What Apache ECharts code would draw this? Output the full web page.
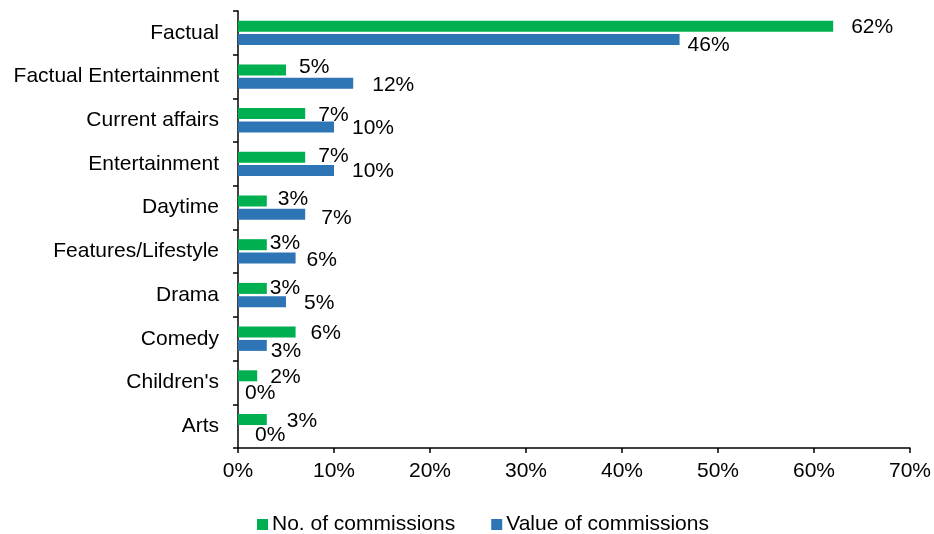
<!DOCTYPE html>
<html>
<head>
<meta charset="utf-8">
<script src="https://cdn.jsdelivr.net/npm/echarts@6/dist/echarts.min.js"></script>
<style>
  html, body { margin: 0; padding: 0; background: #fff; }
  #chart { width: 934px; height: 534px; }
</style>
</head>
<body>
<div id="chart"></div>
<script>
// Commissions by genre, share (%) of number and of value
const genres = ['Factual', 'Factual Entertainment', 'Current affairs', 'Entertainment', 'Daytime',
  'Features/Lifestyle', 'Drama', 'Comedy', "Children's", 'Arts'];
const numberShare = [62, 5, 7, 7, 3, 3, 3, 6, 2, 3];
const valueShare = [46, 12, 10, 10, 7, 6, 5, 3, 0, 0];
const seriesNames = ['No. of commissions', 'Value of commissions'];
const xTicks = [0, 10, 20, 30, 40, 50, 60, 70];

// Hand-placed data label nudges [dx, dy] in px, one per genre
const numberLabelNudge = [[18, 1], [13, -3], [13, 2], [13, -1], [11, -2], [3, -1], [3, 0], [15, 1], [13, 1], [20, 2]];
const valueLabelNudge = [[8, 6], [19, 2], [18, 1], [18, 1], [16, 4], [11, 2], [18, 1], [4, 6], [7, 4], [17, 2]];

const FONT = "'Liberation Sans', Arial, sans-serif";
const TEXT = '#000';
const FS = 21;

function items(values, nudges) {
  return values.map((v, i) => ({
    value: v,
    label: { offset: nudges[i] }
  }));
}

const chart = echarts.init(document.getElementById('chart'), null, { renderer: 'canvas' });
chart.setOption({
  animation: false,
  textStyle: { fontFamily: FONT },
  grid: { left: 238, right: 23, top: 11, bottom: 86, containLabel: false },
  legend: {
    data: seriesNames,
    left: 252,
    top: 509,
    icon: 'rect',
    itemWidth: 11,
    itemHeight: 11,
    itemGap: 36,
    textStyle: { fontSize: FS, color: TEXT, fontFamily: FONT, padding: [0, 0, 0, -1] }
  },
  xAxis: {
    type: 'value',
    min: xTicks[0],
    max: xTicks[xTicks.length - 1],
    interval: 10,
    splitLine: { show: false },
    axisLine: { show: true, lineStyle: { color: '#000', width: 1.5 } },
    axisTick: { show: true, length: 5, lineStyle: { color: '#000', width: 1.5 } },
    axisLabel: { fontSize: FS, color: TEXT, margin: 13, fontFamily: FONT, formatter: v => v + '%' }
  },
  yAxis: {
    type: 'category',
    data: genres,
    inverse: true,
    axisLine: { show: true, lineStyle: { color: '#000', width: 1.5 } },
    axisTick: { show: true, length: 5, inside: false, lineStyle: { color: '#000', width: 1.5 } },
    axisLabel: { fontSize: FS, color: TEXT, margin: 19, fontFamily: FONT }
  },
  series: [
    {
      name: seriesNames[0],
      type: 'bar',
      data: items(numberShare, numberLabelNudge),
      barWidth: 11,
      barGap: '21%',
      itemStyle: { color: '#00B050' },
      label: { show: true, position: 'right', distance: 0, fontSize: FS, color: TEXT, fontFamily: FONT,
        formatter: p => p.value + '%' }
    },
    {
      name: seriesNames[1],
      type: 'bar',
      data: items(valueShare, valueLabelNudge),
      barWidth: 11,
      barGap: '21%',
      itemStyle: { color: '#2E75B6' },
      label: { show: true, position: 'right', distance: 0, fontSize: FS, color: TEXT, fontFamily: FONT,
        formatter: p => p.value + '%' }
    }
  ]
});
</script>
</body>
</html>
